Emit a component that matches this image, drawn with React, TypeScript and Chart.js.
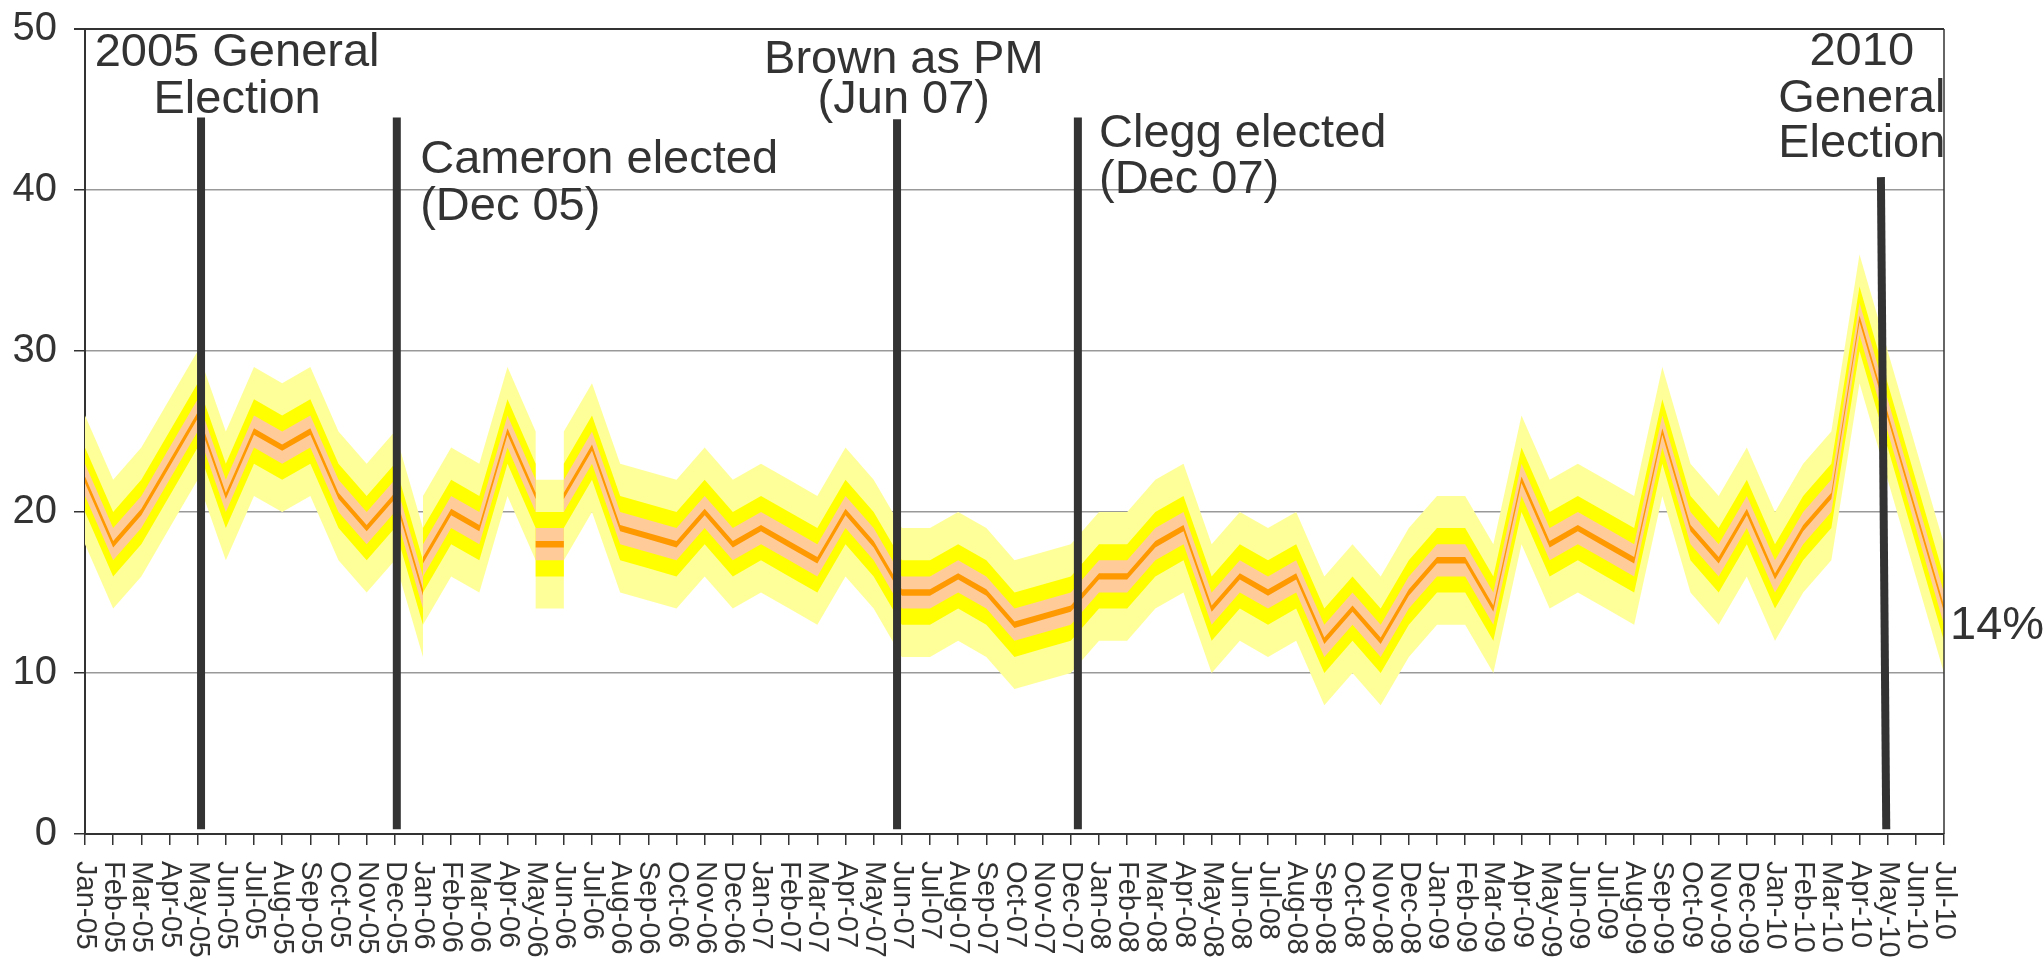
import React, { useEffect, useRef } from "react";
import { Chart, registerables } from "chart.js";

Chart.register(...registerables);

// ---------- data ----------
const months = [
  "Jan-05", "Feb-05", "Mar-05", "Apr-05", "May-05", "Jun-05", "Jul-05", "Aug-05", "Sep-05", "Oct-05", "Nov-05", "Dec-05",
  "Jan-06", "Feb-06", "Mar-06", "Apr-06", "May-06", "Jun-06", "Jul-06", "Aug-06", "Sep-06", "Oct-06", "Nov-06", "Dec-06",
  "Jan-07", "Feb-07", "Mar-07", "Apr-07", "May-07", "Jun-07", "Jul-07", "Aug-07", "Sep-07", "Oct-07", "Nov-07", "Dec-07",
  "Jan-08", "Feb-08", "Mar-08", "Apr-08", "May-08", "Jun-08", "Jul-08", "Aug-08", "Sep-08", "Oct-08", "Nov-08", "Dec-08",
  "Jan-09", "Feb-09", "Mar-09", "Apr-09", "May-09", "Jun-09", "Jul-09", "Aug-09", "Sep-09", "Oct-09", "Nov-09", "Dec-09",
  "Jan-10", "Feb-10", "Mar-10", "Apr-10", "May-10", "Jun-10", "Jul-10",
];

const voteShare = [
  22, 18, 20, 23, 26, 21, 25, 24, 25, 21, 19, 21,
  15, 20, 19, 25, 21, 21, 24, 19, 18.5, 18, 20, 18,
  19, 18, 17, 20, 18, 15, 15, 16, 15, 13, 13.5, 14,
  16, 16, 18, 19, 14, 16, 15, 16, 12, 14, 12, 15,
  17, 17, 14, 22, 18, 19, 18, 17, 25, 19, 17, 20,
  16, 19, 21, 32, 26, 20, 14,
];

// extra points drawn straight after a month's own point (the series jumps there)
const jumpAfterMonth = ["Jan-06", "May-06"];
const jumpMonths = [["Jan-06"], ["May-06", "Jun-06"]];
const jumpValues = [[17], [18, 18]];

// half-widths of the shaded bands (outer to inner) and their colours
const bandHalfWidths = [4, 2, 1, 0.2];
const bandColours = ["#FFFF99", "#FFFF00", "#FFCC99", "#FF9900"];

const yMin = 0;
const yMax = 50;
const yStep = 10;

// event markers: x position in months from Jan-05, top value
const eventX = [4.12, 11.07, 28.83, 35.25, 63.76];
const eventXBottom = [4.12, 11.07, 28.83, 35.25, 63.95];
const eventTop = [44.5, 44.5, 44.4, 44.5, 40.8];
const eventBottom = 0.3;

const annotations = [
  { lines: ["2005 General", "Election"], x: 5.4, y: [47.7, 44.78], align: "center" },
  { lines: ["Cameron elected", "(Dec 05)"], x: 11.9, y: [41.06, 38.14], align: "left" },
  { lines: ["Brown as PM", "(Jun 07)"], x: 29.07, y: [47.27, 44.78], align: "center" },
  { lines: ["Clegg elected", "(Dec 07)"], x: 36.0, y: [42.67, 39.81], align: "left" },
  { lines: ["2010", "General", "Election"], x: 63.08, y: [47.76, 44.84, 42.05], align: "center" },
];
const endLabel = "14%";

// ---------- helpers ----------
const FONT = "'Liberation Sans', Arial, Helvetica, sans-serif";
const TEXT = "#333333";

function buildCentre() {
  const pts: { x: number; y: number }[] = [];
  voteShare.forEach((v, i) => {
    pts.push({ x: i, y: v });
    const j = jumpAfterMonth.indexOf(months[i]);
    if (j >= 0) {
      jumpMonths[j].forEach((m, k) => {
        pts.push({ x: months.indexOf(m), y: jumpValues[j][k] });
      });
    }
  });
  return pts;
}

const overlayPlugin = {
  id: "overlay",
  afterDatasetsDraw(chart: any) {
    const { ctx } = chart;
    const xs = chart.scales.x;
    const ys = chart.scales.y;
    ctx.save();
    ctx.strokeStyle = "#333333";
    ctx.lineWidth = 8;
    ctx.lineCap = "butt";
    eventX.forEach((ex, i) => {
      ctx.beginPath();
      ctx.moveTo(xs.getPixelForValue(ex), ys.getPixelForValue(eventTop[i]));
      ctx.lineTo(xs.getPixelForValue(eventXBottom[i]), ys.getPixelForValue(eventBottom));
      ctx.stroke();
    });
    ctx.restore();
  },
  afterDraw(chart: any) {
    const { ctx, chartArea } = chart;
    const xs = chart.scales.x;
    const ys = chart.scales.y;
    ctx.save();
    // right border
    ctx.strokeStyle = "#333333";
    ctx.lineWidth = 1.5;
    ctx.beginPath();
    ctx.moveTo(chartArea.right, chartArea.top);
    ctx.lineTo(chartArea.right, chartArea.bottom);
    ctx.stroke();

    // rotated month labels (reading downwards)
    ctx.fillStyle = TEXT;
    ctx.font = `29px ${FONT}`;
    ctx.textAlign = "left";
    ctx.textBaseline = "middle";
    months.forEach((m, i) => {
      ctx.save();
      ctx.translate(xs.getPixelForValue(i), chartArea.bottom + 27);
      ctx.rotate(Math.PI / 2);
      ctx.fillText(m, 0, 0);
      ctx.restore();
    });

    // annotations
    ctx.font = `47px ${FONT}`;
    ctx.textBaseline = "alphabetic";
    annotations.forEach((a) => {
      ctx.textAlign = a.align as CanvasTextAlign;
      a.lines.forEach((line, k) => {
        ctx.fillText(line, xs.getPixelForValue(a.x), ys.getPixelForValue(a.y[k]));
      });
    });

    // end label
    const last = voteShare.length - 1;
    ctx.textAlign = "left";
    ctx.textBaseline = "middle";
    ctx.fillText(endLabel, xs.getPixelForValue(last) + 6, ys.getPixelForValue(voteShare[last]) + 17);
    ctx.restore();
  },
};

export default function App() {
  const canvasRef = useRef<HTMLCanvasElement | null>(null);

  useEffect(() => {
    if (!canvasRef.current) return;
    const centre = buildCentre();
    const datasets: any[] = [];
    bandHalfWidths.forEach((h, k) => {
      const order = bandHalfWidths.length - k;
      datasets.push({
        data: centre.map((p) => ({ x: p.x, y: p.y + h })),
        borderColor: "transparent",
        borderWidth: 0,
        pointRadius: 0,
        fill: false,
        order,
      });
      datasets.push({
        data: centre.map((p) => ({ x: p.x, y: p.y - h })),
        borderColor: "transparent",
        borderWidth: 0,
        pointRadius: 0,
        backgroundColor: bandColours[k],
        fill: "-1",
        order,
      });
    });

    const chart = new Chart(canvasRef.current, {
      type: "line",
      data: { datasets },
      plugins: [overlayPlugin],
      options: {
        animation: false,
        responsive: true,
        maintainAspectRatio: false,
        devicePixelRatio: 1,
        layout: { padding: { top: 29, right: 100, left: 0, bottom: 0 } },
        plugins: {
          legend: { display: false },
          tooltip: { enabled: false },
          title: { display: false },
        },
        elements: { line: { tension: 0 } },
        scales: {
          x: {
            type: "linear",
            min: 0,
            max: months.length - 1,
            ticks: { display: false, stepSize: 1, maxTicksLimit: 200 },
            grid: {
              drawOnChartArea: false,
              drawTicks: true,
              tickLength: 11,
              tickColor: "#333333",
              lineWidth: 1.5,
            },
            border: { display: true, color: "#333333", width: 2 },
            afterFit(scale: any) {
              scale.height = 126;
              scale.paddingLeft = 0;
              scale.paddingRight = 0;
            },
          },
          y: {
            type: "linear",
            min: yMin,
            max: yMax,
            ticks: {
              stepSize: yStep,
              color: TEXT,
              font: { size: 40, family: FONT },
              padding: 17,
            },
            grid: {
              color: (c: any) => (c.tick && c.tick.value === yMax ? "#333333" : "#999999"),
              lineWidth: (c: any) => (c.tick && c.tick.value === yMax ? 2 : 1.5),
              tickColor: "#333333",
              tickLength: 11,
              drawTicks: true,
            },
            border: { display: true, color: "#333333", width: 2 },
            afterFit(scale: any) {
              scale.width = 85;
              scale.paddingTop = 0;
              scale.paddingBottom = 0;
            },
          },
        },
      } as any,
    });
    return () => chart.destroy();
  }, []);

  return (
    <div style={{ position: "fixed", left: 0, top: 0, width: 2044, height: 960, background: "#ffffff" }}>
      <canvas ref={canvasRef} />
    </div>
  );
}
